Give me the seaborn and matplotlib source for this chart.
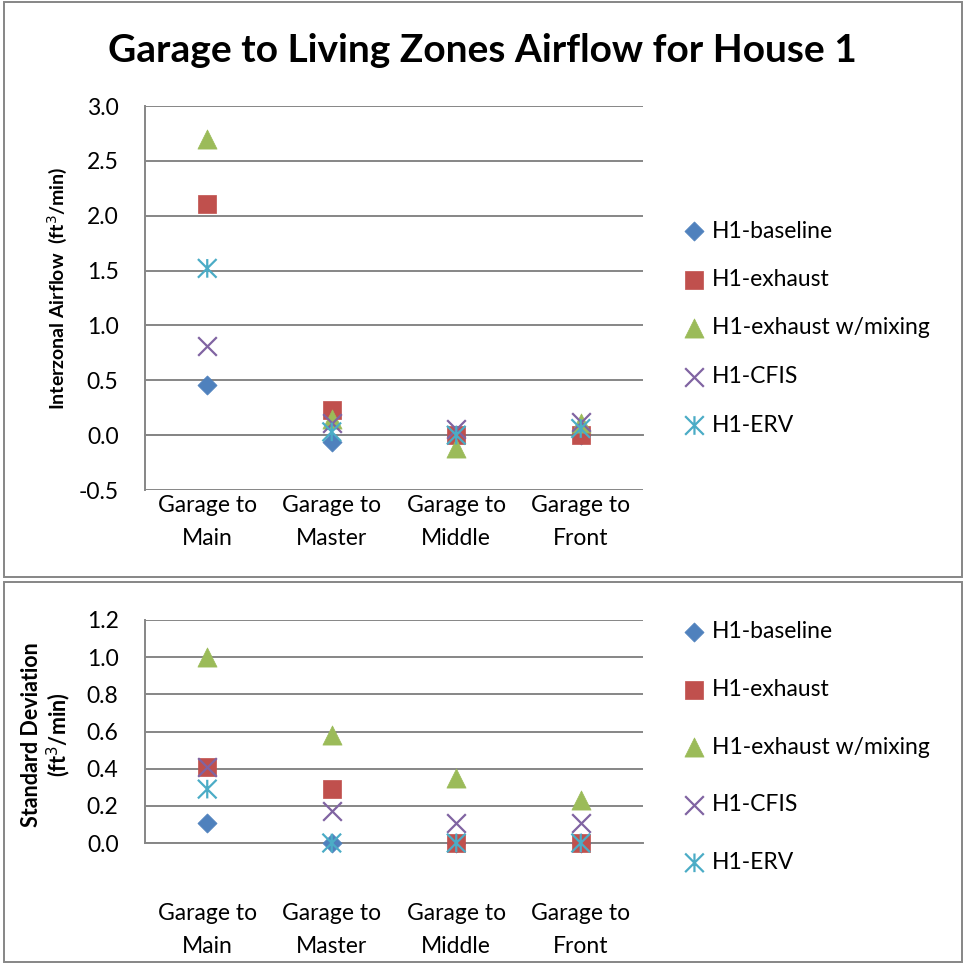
import numpy as np
import matplotlib
matplotlib.use("Agg")
import matplotlib.pyplot as plt
import matplotlib.ticker as ticker
from matplotlib.path import Path
from matplotlib.patches import Rectangle
import pandas as pd
import seaborn as sns

sns.set_style("white")
plt.rcParams['font.family'] = ['Lato', 'DejaVu Sans']
plt.rcParams['text.color'] = 'black'
plt.rcParams['xtick.color'] = 'black'
plt.rcParams['ytick.color'] = 'black'

zones = ["Garage to\nMain", "Garage to\nMaster", "Garage to\nMiddle", "Garage to\nFront"]
series = ["H1-baseline", "H1-exhaust", "H1-exhaust w/mixing", "H1-CFIS", "H1-ERV"]

# interzonal airflow (ft3/min), one list per series, in zone order
flow_baseline = [0.46, -0.06, 0.0, 0.0]
flow_exhaust = [2.11, 0.23, 0.0, 0.0]
flow_mixing = [2.70, 0.15, -0.12, 0.11]
flow_cfis = [0.81, 0.11, 0.06, 0.12]
flow_erv = [1.52, 0.03, 0.0, 0.06]

# standard deviation (ft3/min)
std_baseline = [0.11, 0.0, 0.0, 0.0]
std_exhaust = [0.41, 0.29, 0.0, 0.0]
std_mixing = [1.0, 0.58, 0.35, 0.23]
std_cfis = [0.41, 0.17, 0.11, 0.11]
std_erv = [0.29, 0.0, 0.0, 0.0]

flow_ticks = [-0.5, 0.0, 0.5, 1.0, 1.5, 2.0, 2.5, 3.0]
std_ticks = [0.0, 0.2, 0.4, 0.6, 0.8, 1.0, 1.2]

colors = ["#4F81BD", "#C0504D", "#9BBB59", "#8064A2", "#4BACC6"]
gray = "#868686"

# excel style asterisk: an x with a vertical bar
star = Path([(-1, -1), (1, 1), (-1, 1), (1, -1), (0, -1), (0, 1)],
            [Path.MOVETO, Path.LINETO, Path.MOVETO, Path.LINETO, Path.MOVETO, Path.LINETO])
markers = ["D", "s", "^", "x", star]
sizes = [95, 180, 190, 180, 180]

FS = 16.5


def long_table(vals):
    rows = []
    for name, v in zip(series, vals):
        for z, y in zip(zones, v):
            rows.append({"zone": z, "series": name, "value": y})
    return pd.DataFrame(rows)


flow = long_table([flow_baseline, flow_exhaust, flow_mixing, flow_cfis, flow_erv])
std = long_table([std_baseline, std_exhaust, std_mixing, std_cfis, std_erv])

W, H = 965, 963
fig = plt.figure(figsize=(W / 100, H / 100), dpi=100)

# outer chart frames
fig.patches.append(Rectangle((4 / W, 1 - 577 / H), 958 / W, 575 / H, transform=fig.transFigure,
                             fill=False, edgecolor=gray, lw=1.4))
fig.patches.append(Rectangle((4 / W, 1 - 962 / H), 958 / W, 380 / H, transform=fig.transFigure,
                             fill=False, edgecolor=gray, lw=1.4))

ax1 = fig.add_axes([145 / W, 1 - 490 / H, 498 / W, 384 / H])
ax2 = fig.add_axes([145 / W, 1 - 843 / H, 498 / W, 223 / H])


def draw(ax, df, ylim, yticks):
    for i, name in enumerate(series):
        sub = df[df.series == name]
        m = markers[i]
        if m == "x":
            sns.scatterplot(data=sub, x="zone", y="value", ax=ax, marker=m, s=sizes[i],
                            color=colors[i], linewidth=1.6, label=name, clip_on=False, zorder=3 + i)
        elif isinstance(m, Path):
            sns.scatterplot(data=sub, x="zone", y="value", ax=ax, marker=m, s=sizes[i],
                            facecolor="none", edgecolor=colors[i],
                            linewidth=1.6, label=name, clip_on=False, zorder=3 + i)
        else:
            sns.scatterplot(data=sub, x="zone", y="value", ax=ax, marker=m, s=sizes[i],
                            color=colors[i], edgecolor=colors[i], linewidth=0.5,
                            label=name, clip_on=False, zorder=3 + i)
    ax.set_xlim(-0.5, 3.5)
    ax.set_ylim(*ylim)
    ax.set_yticks(yticks)
    ax.yaxis.set_major_formatter(ticker.FormatStrFormatter("%.1f"))
    ax.grid(axis="y", color=gray, lw=1.4)
    ax.set_axisbelow(True)
    for s in ["top", "right"]:
        ax.spines[s].set_visible(False)
    ax.spines["left"].set_color(gray)
    ax.spines["left"].set_linewidth(1.4)
    ax.spines["bottom"].set_color(gray)
    ax.spines["bottom"].set_linewidth(1.4)
    ax.spines["bottom"].set_position(("data", 0))
    ax.set_xticks(range(len(zones)))
    ax.set_xticklabels(zones, fontsize=FS, linespacing=1.7)
    ax.set_xticks(np.arange(-0.5, len(zones), 1.0), minor=True)
    ax.tick_params(axis="x", which="major", length=0, pad=43)
    ax.tick_params(axis="x", which="minor", direction="out", length=5, width=1.4, color=gray)
    ax.tick_params(axis="y", direction="out", length=5, width=1.4, color=gray, pad=14, labelsize=FS)
    ax.set_xlabel("")
    ax.set_ylabel("")


draw(ax1, flow, (-0.5, 3.0), flow_ticks)
draw(ax2, std, (0, 1.2), std_ticks)

ax1.legend(loc="center left", bbox_to_anchor=(683 / W, 1 - 328 / H), bbox_transform=fig.transFigure,
           frameon=False, fontsize=FS, handlelength=1.0, handletextpad=0.25, labelspacing=1.2,
           borderpad=0, borderaxespad=0)
ax2.legend(loc="center left", bbox_to_anchor=(683 / W, 1 - 747 / H), bbox_transform=fig.transFigure,
           frameon=False, fontsize=FS, handlelength=1.0, handletextpad=0.25, labelspacing=1.6,
           borderpad=0, borderaxespad=0)

fig.text(57 / W, 1 - 288 / H, "Interzonal Airflow  (ft$^3$/min)", rotation=90, ha="center", va="center",
         fontsize=14, fontweight="bold")
fig.text(47 / W, 1 - 735 / H, "Standard Deviation\n(ft$^3$/min)", rotation=90, ha="center", va="center",
         fontsize=15.5, fontweight="bold", linespacing=1.1)
fig.text(0.5, 1 - 50 / H, "Garage to Living Zones Airflow for House 1", ha="center", va="center",
         fontsize=28, fontweight="bold")

fig.savefig("out.png", dpi=100)
